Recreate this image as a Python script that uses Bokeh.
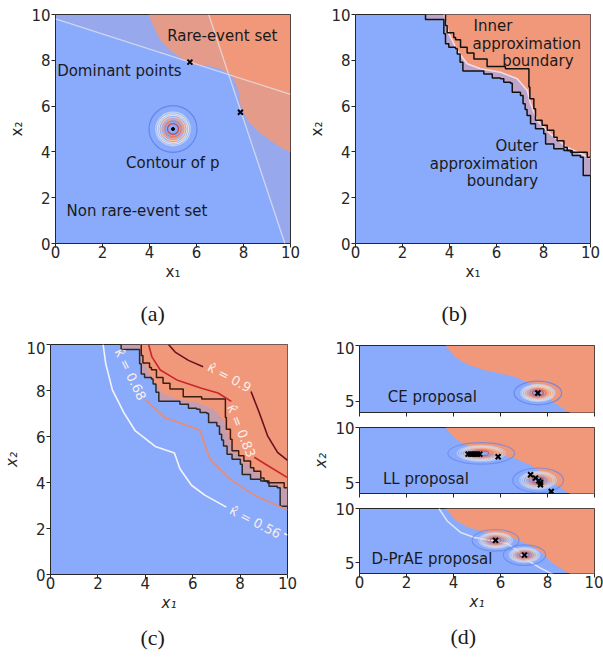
import numpy as np
from bokeh.plotting import figure
from bokeh.layouts import row, column
from bokeh.models import FixedTicker, Title
from bokeh.core.properties import value
from bokeh.embed import file_html
from bokeh.resources import INLINE

BLUE = "#8aabfc"
ORANGE = "#f1987a"
PURPLE_B = "#bea4c8"
PURPLE_C = "#c49dae"
TINT = "#c0a3bd"
FONT = "DejaVu Sans"
SERIF = "Liberation Serif"

# ---------------- data: panel (a) ----------------
a_bound_x = [3.97, 4.18, 4.47, 4.89, 5.39, 5.89, 6.45, 7.02, 7.45, 7.66, 7.80, 7.84, 7.94, 8.23, 8.65, 9.15, 9.57, 10.0]
a_bound_y = [10.0, 9.45, 8.87, 8.43, 8.07, 7.82, 7.77, 7.63, 7.38, 7.04, 6.60, 6.24, 5.81, 5.30, 4.86, 4.50, 4.20, 3.99]
a_line1_x = [0.0, 10.0]
a_line1_y = [9.81, 6.51]
a_line2_x = [6.52, 9.76]
a_line2_y = [10.0, 0.0]
a_dom_x = [5.72, 7.87]
a_dom_y = [7.92, 5.73]
a_mean_x = [5.0]
a_mean_y = [5.0]
a_ring_scale = [1.02]
a_text = ["Rare-event set", "Dominant points", "Contour of p", "Non rare-event set"]
a_text_x = [4.75, 0.07, 3.0, 0.47]
a_text_y = [9.04, 7.55, 3.52, 1.44]

# Gaussian contour rings (normalised radii) and their colours
ring_r = [1.0, 0.72, 0.65, 0.58, 0.50, 0.42, 0.34, 0.23]
ring_colors = ["#6485ec", "#bfd3f6", "#dcdfe8", "#ecd9cf", "#f4c3ab", "#f0a486", "#e57a60", "#cf4538"]

# ---------------- data: panels (b) and (c) ----------------
b_bound_x = [3.76, 3.97, 4.33, 4.75, 5.32, 6.17, 6.88, 7.31, 7.45, 7.73, 8.30, 9.00, 9.86, 10.0]
b_bound_y = [10.0, 9.16, 8.43, 7.85, 7.63, 7.48, 7.19, 6.68, 6.10, 5.37, 4.79, 4.20, 3.80, 3.72]
outer_sx = [2.98, 3.76, 3.83, 3.97, 4.26, 4.33, 4.45, 4.57, 5.46, 5.82, 6.17, 6.31, 6.60, 6.67, 7.02,
            7.13, 7.22, 7.30, 7.45, 7.66, 8.01, 8.09, 8.44, 8.87, 9.22, 9.57, 9.69]
outer_sy = [9.78, 9.16, 8.72, 8.57, 8.50, 8.28, 7.92, 7.53, 7.40, 7.23, 7.19, 7.04, 7.00, 6.61, 6.46,
            6.10, 5.85, 5.59, 5.23, 5.01, 4.79, 4.35, 4.14, 4.06, 3.84, 3.77, 2.97]
inner_sx = [3.83, 3.90, 4.18, 4.26, 4.47, 4.75, 5.04, 5.60, 6.38, 7.38, 7.42, 7.59, 7.66, 7.94, 8.16,
            8.44, 8.58, 8.87, 9.01, 9.15, 9.86]
inner_sy = [9.52, 9.20, 9.00, 8.90, 8.57, 8.32, 8.06, 7.73, 7.63, 6.83, 6.32, 5.88, 5.38, 5.16, 4.94,
            4.64, 4.49, 4.20, 4.06, 3.99, 3.77]
b_text = ["Inner", "approximation", "boundary"]
b_text_x = [5.02, 4.98, 6.24]
b_text_y = [9.48, 8.72, 7.99]
b_text2 = ["Outer", "approximation", "boundary"]
b_text2_x = [7.77, 7.77, 7.77]
b_text2_y = [4.25, 3.48, 2.71]

# kappa-hat contours of panel (c): line pieces on either side of the inline label
c_colors = ["#f4f4f8", "#ee8a6c", "#c9262c", "#6b1020"]
c_xs = [[[2.22, 2.33, 2.61, 3.10, 3.58, 4.42, 5.23, 5.46, 5.95, 6.51, 7.42], [9.86, 10.0]],
        [[4.00, 4.84, 6.30, 6.72, 7.63, 8.60, 10.0]],
        [[4.14, 4.28, 4.63, 5.33, 6.37, 7.07, 7.63], [8.60, 9.16, 10.0]],
        [[4.98, 5.26, 5.82, 6.44], [8.46, 8.81, 9.16, 9.58, 10.0]]]
c_ys = [[[10.0, 9.17, 8.03, 7.03, 6.24, 5.57, 5.28, 4.60, 3.88, 3.45, 2.93], [1.78, 1.72]],
        [[7.60, 6.81, 6.28, 5.03, 4.10, 3.45, 2.81]],
        [[10.0, 9.46, 8.89, 8.46, 8.10, 7.89, 7.53], [5.10, 4.74, 4.21]],
        [[10.0, 9.67, 9.31, 9.03], [7.96, 7.03, 6.03, 5.31, 4.96]]]
c_label = ["κ̂ = 0.56", "κ̂ = 0.68", "κ̂ = 0.83", "κ̂ = 0.9"]
c_label_x = [8.64, 3.37, 8.05, 7.55]
c_label_y = [2.28, 8.70, 6.24, 8.57]
c_label_deg = [-27.4, -64.2, -68.0, -28.4]

# ---------------- data: panel (d) ----------------
d_bound_x = [3.66, 4.10, 4.60, 5.30, 6.00, 6.60, 7.20, 7.70, 8.20, 8.80, 9.30, 10.0]
d_bound_y = [10.0, 8.90, 8.30, 7.80, 7.50, 7.20, 6.65, 6.00, 5.00, 4.15, 3.60, 3.60]
ce_x = [7.59]
ce_y = [5.75]
ce_cx = [7.59]
ce_cy = [5.75]
ce_sx = [1.01]
ce_sy = [1.06]
ll_x = [4.62, 4.72, 4.82, 4.92, 5.02, 5.12, 5.90, 7.28, 7.49, 7.63, 7.70, 7.70, 8.16]
ll_y = [7.58, 7.58, 7.58, 7.58, 7.58, 7.58, 7.34, 5.70, 5.40, 5.15, 5.00, 4.80, 4.18]
ll_cx = [5.18, 7.60]
ll_cy = [7.65, 5.20]
ll_sx = [1.42, 1.08]
ll_sy = [0.98, 1.12]
dp_x = [5.79, 7.02]
dp_y = [7.06, 5.70]
dp_cx = [5.79, 7.02]
dp_cy = [7.06, 5.70]
dp_sx = [1.00, 0.90]
dp_sy = [1.00, 0.95]
dp_line_x = [3.38, 3.73, 4.30, 4.86, 5.57, 6.29, 6.71, 7.14, 7.70, 8.27]
dp_line_y = [10.0, 8.85, 7.79, 7.34, 7.04, 6.76, 6.15, 5.24, 4.49, 3.88]
d_text = ["CE proposal", "LL proposal", "D-PrAE proposal"]
d_text_x = [1.20, 1.00, 0.51]
d_text_y = [5.35, 5.36, 5.34]

ticks_full = [0, 2, 4, 6, 8, 10]
ticks_d = [5, 10]
captions = ["(a)", "(b)", "(c)", "(d)"]


# ---------------- helpers ----------------
def base(fw, fh, yr, bl, br, bt, bb, yticks, xlabel=None, ylabel=None,
         show_xlabels=True, italic=False):
    p = figure(width=bl + fw + br, height=bt + fh + bb, x_range=(0, 10), y_range=yr,
               output_backend="svg", toolbar_location=None, title=None,
               min_border_left=bl, min_border_right=br,
               min_border_top=bt, min_border_bottom=bb)
    p.xgrid.visible = False
    p.ygrid.visible = False
    p.background_fill_color = BLUE
    p.border_fill_color = "white"
    p.outline_line_color = "#262626"
    p.outline_line_width = 1
    p.xaxis.ticker = FixedTicker(ticks=ticks_full)
    p.yaxis.ticker = FixedTicker(ticks=yticks)
    for ax in (p.xaxis[0], p.yaxis[0]):
        ax.axis_line_color = None
        ax.major_tick_in = 0
        ax.major_tick_out = 4
        ax.major_tick_line_color = "#262626"
        ax.minor_tick_line_color = None
        ax.major_label_text_font = FONT
        ax.major_label_text_font_size = "15px"
        ax.major_label_text_color = "#262626"
        ax.major_label_standoff = 1
        ax.axis_label_text_font = FONT
        ax.axis_label_text_font_size = "15px"
        ax.axis_label_text_font_style = "italic" if italic else "normal"
        ax.axis_label_text_color = "#262626"
        ax.axis_label_standoff = 2
    p.xaxis.major_label_standoff = -2
    if xlabel:
        p.xaxis.axis_label = xlabel
    if ylabel:
        p.yaxis.axis_label = ylabel
    if not show_xlabels:
        p.xaxis.major_label_overrides = {t: "" for t in ticks_full}
        p.xaxis.major_label_standoff = 0
    return p


def caption(p, text, offset, standoff):
    t = Title(text=text, align="left", offset=offset, text_font=SERIF,
              text_font_size="22px", text_font_style="normal",
              text_color="#1a1a1a", standoff=standoff)
    p.add_layout(t, "below")


def stair(sx, sy):
    xs, ys = [sx[0]], [10.0]
    for i in range(len(sx)):
        nx = sx[i + 1] if i + 1 < len(sx) else 10.0
        xs += [sx[i], nx]
        ys += [sy[i], sy[i]]
    return xs, ys


def rings(p, cx, cy, sx, sy, alpha=1.0, lw=1.2):
    for r, c in zip(ring_r, ring_colors):
        p.ellipse(x=cx, y=cy, width=[2 * r * s for s in sx], height=[2 * r * s for s in sy],
                  fill_color=None, line_color=c, line_width=lw, line_alpha=alpha)


def texts(p, t, x, y, align="left", size="15px", color="#1a1a1a"):
    p.text(x=x, y=y, text=t, text_font=value(FONT), text_font_size=size,
           text_align=align, text_baseline="middle", text_color=color)


def intersect(x1, y1, x2, y2, x3, y3, x4, y4):
    d = (x1 - x2) * (y3 - y4) - (y1 - y2) * (x3 - x4)
    t = ((x1 - x3) * (y3 - y4) - (y1 - y3) * (x3 - x4)) / d
    return x1 + t * (x2 - x1), y1 + t * (y2 - y1)


# ---------------- panel (a) ----------------
pa = base(235, 229, (0, 10), 55, 10, 14, 98, ticks_full, "x₁", "x₂")
pa.patch(a_bound_x + [10.0], a_bound_y + [10.0], fill_color=ORANGE, line_color=None)
xi, yi = intersect(a_line1_x[0], a_line1_y[0], a_line1_x[1], a_line1_y[1],
                   a_line2_x[0], a_line2_y[0], a_line2_x[1], a_line2_y[1])
pa.patch([a_line1_x[0], xi, a_line2_x[0], 0.0], [a_line1_y[0], yi, a_line2_y[0], 10.0],
         fill_color=TINT, fill_alpha=0.25, line_color=None)
pa.patch([xi, a_line1_x[1], 10.0, a_line2_x[1]], [yi, a_line1_y[1], 0.0, a_line2_y[1]],
         fill_color=TINT, fill_alpha=0.25, line_color=None)
pa.line(a_line1_x, a_line1_y, line_color="#e4e4f0", line_width=1.3, line_alpha=0.75)
pa.line(a_line2_x, a_line2_y, line_color="#e4e4f0", line_width=1.3, line_alpha=0.75)
rings(pa, a_mean_x, a_mean_y, a_ring_scale, a_ring_scale)
pa.scatter(a_mean_x, a_mean_y, size=3, color="black")
pa.scatter(a_dom_x, a_dom_y, marker="x", size=7, line_color="black", line_width=2)
texts(pa, a_text, a_text_x, a_text_y)
caption(pa, captions[0], 85, 31)

# ---------------- panel (b) ----------------
pb = base(235, 229, (0, 10), 55, 13, 14, 98, ticks_full, "x₁", "x₂")
ox, oy = stair(outer_sx, outer_sy)
ix, iy = stair(inner_sx, inner_sy)
pb.patch(ox + [10.0], oy + [10.0], fill_color=PURPLE_B, line_color=None)
pb.patch(b_bound_x + [10.0], b_bound_y + [10.0], fill_color=ORANGE, line_color=None)
pb.line(b_bound_x, b_bound_y, line_color="#f2dde6", line_width=1.6)
pb.line(ox, oy, line_color="#111111", line_width=1.5)
pb.line(ix, iy, line_color="#111111", line_width=1.5)
texts(pb, b_text, b_text_x, b_text_y)
texts(pb, b_text2, b_text2_x, b_text2_y, align="right")
caption(pb, captions[1], 86, 31)

# ---------------- panel (c) ----------------
pc = base(239, 233, (0, 10), 48, 13, 3, 80, ticks_full, "x₁", "x₂", italic=True)
pc.patch(ox + [10.0], oy + [10.0], fill_color=PURPLE_C, line_color=None)
pc.patch(b_bound_x + [10.0], b_bound_y + [10.0], fill_color=ORANGE, line_color=None)
pc.line(ox, oy, line_color="#2a2a2a", line_width=1.5)
pc.line(ix, iy, line_color="#3b1c14", line_width=1.5)
for xs, ys, col in zip(c_xs, c_ys, c_colors):
    pc.multi_line(xs, ys, line_color=col, line_width=1.6)
pc.text(x=c_label_x, y=c_label_y, text=c_label, angle=[np.deg2rad(a) for a in c_label_deg],
        text_font=value(FONT), text_font_size="13px", text_align="center",
        text_baseline="middle", text_color="#fbeee8")
caption(pc, captions[2], 90, 16)

# ---------------- panel (d) ----------------
def dpanel(bt, fh, bb, show_x, xlabel=None, ylabel=None):
    p = base(235, fh, (4, 10), 59, 9, bt, bb, ticks_d, xlabel, ylabel,
             show_xlabels=show_x, italic=True)
    p.patch(d_bound_x + [10.0], d_bound_y + [10.0], fill_color=ORANGE, line_color=None)
    return p

d1 = dpanel(4, 67, 5, False)
rings(d1, ce_cx, ce_cy, ce_sx, ce_sy, alpha=0.85)
d1.scatter(ce_x, ce_y, marker="x", size=7, line_color="black", line_width=2)
texts(d1, [d_text[0]], [d_text_x[0]], [d_text_y[0]])

d2 = dpanel(10, 66, 5, False, ylabel="x₂")
rings(d2, ll_cx, ll_cy, ll_sx, ll_sy, alpha=0.7)
d2.scatter(ll_x, ll_y, marker="x", size=7, line_color="black", line_width=2)
texts(d2, [d_text[1]], [d_text_x[1]], [d_text_y[1]])

d3 = dpanel(10, 66, 83, True, xlabel="x₁")
d3.line(dp_line_x, dp_line_y, line_color="#eeeef4", line_width=1.5, line_alpha=0.85)
rings(d3, dp_cx, dp_cy, dp_sx, dp_sy, alpha=0.7)
d3.scatter(dp_x, dp_y, marker="x", size=7, line_color="black", line_width=2)
texts(d3, [d_text[2]], [d_text_x[2]], [d_text_y[2]])
caption(d3, captions[3], 91, 17)

layout = column(row(pa, pb), row(pc, column(d1, d2, d3)))
open("out.html", "w").write(file_html(layout, INLINE))
